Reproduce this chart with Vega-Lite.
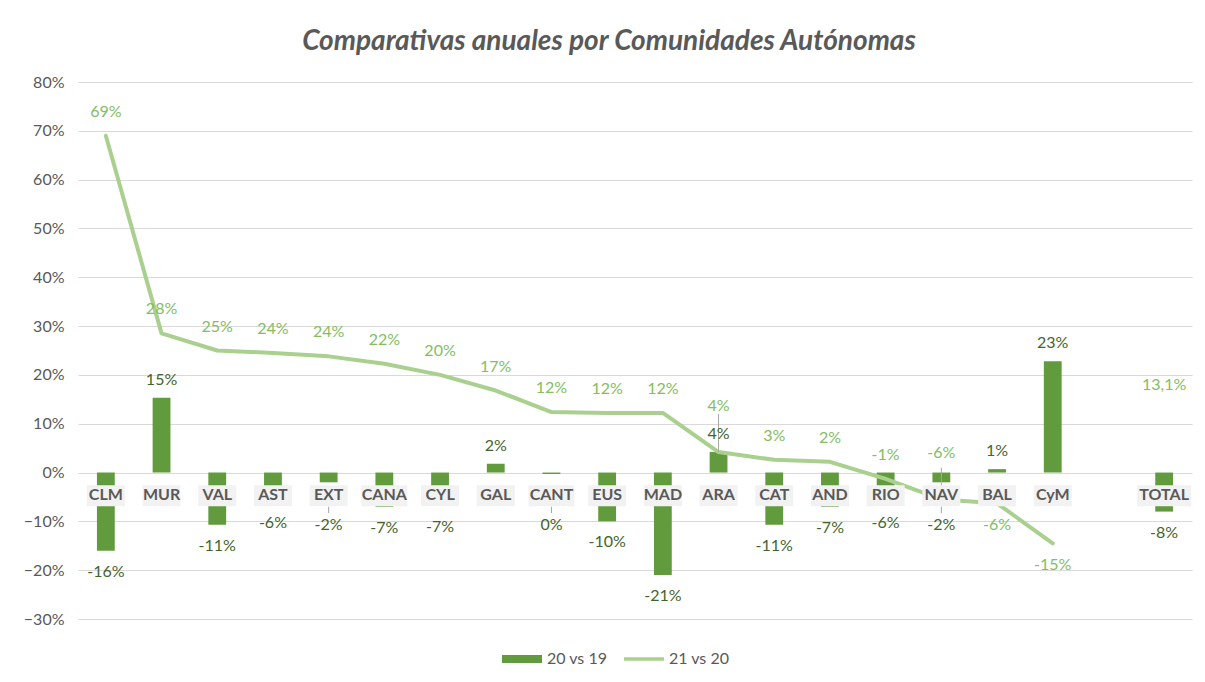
{
  "$schema": "https://vega.github.io/schema/vega-lite/v6.json",
  "width": 1114,
  "height": 537,
  "autosize": "none",
  "padding": {"left": 78, "top": 82, "right": 13, "bottom": 63},
  "background": "white",
  "title": {"text": "Comparativas anuales por Comunidades Autónomas", "font": "Lato", "fontSize": 28, "fontStyle": "italic", "fontWeight": "bold", "color": "#595959", "offset": 18, "dx": -26},
  "config": {"view": {"stroke": null}, "font": "Lato"},
  "data": {"values": [
    {"cat": "CLM", "b": -0.16, "l": 0.69, "bl": "-16%", "ll": "69%"},
    {"cat": "MUR", "b": 0.153, "l": 0.285, "bl": "15%", "ll": "28%"},
    {"cat": "VAL", "b": -0.107, "l": 0.25, "bl": "-11%", "ll": "25%"},
    {"cat": "AST", "b": -0.06, "l": 0.245, "bl": "-6%", "ll": "24%"},
    {"cat": "EXT", "b": -0.02, "l": 0.238, "bl": "-2%", "ll": "24%"},
    {"cat": "CANA", "b": -0.07, "l": 0.223, "bl": "-7%", "ll": "22%"},
    {"cat": "CYL", "b": -0.068, "l": 0.2, "bl": "-7%", "ll": "20%"},
    {"cat": "GAL", "b": 0.018, "l": 0.168, "bl": "2%", "ll": "17%"},
    {"cat": "CANT", "b": -0.003, "l": 0.124, "bl": "0%", "ll": "12%"},
    {"cat": "EUS", "b": -0.1, "l": 0.122, "bl": "-10%", "ll": "12%"},
    {"cat": "MAD", "b": -0.21, "l": 0.122, "bl": "-21%", "ll": "12%"},
    {"cat": "ARA", "b": 0.042, "l": 0.042, "bl": "4%", "ll": "4%"},
    {"cat": "CAT", "b": -0.107, "l": 0.026, "bl": "-11%", "ll": "3%"},
    {"cat": "AND", "b": -0.07, "l": 0.022, "bl": "-7%", "ll": "2%"},
    {"cat": "RIO", "b": -0.06, "l": -0.013, "bl": "-6%", "ll": "-1%"},
    {"cat": "NAV", "b": -0.02, "l": -0.055, "bl": "-2%", "ll": "-6%"},
    {"cat": "BAL", "b": 0.007, "l": -0.063, "bl": "1%", "ll": "-6%"},
    {"cat": "CyM", "b": 0.228, "l": -0.145, "bl": "23%", "ll": "-15%"},
    {"cat": "TOTAL", "b": -0.08, "l": 0.131, "bl": "-8%", "ll": "13,1%"}
  ]},
  "encoding": {
    "x": {"field": "cat", "type": "nominal", "axis": null,
      "scale": {"domain": ["CLM", "MUR", "VAL", "AST", "EXT", "CANA", "CYL", "GAL", "CANT", "EUS", "MAD", "ARA", "CAT", "AND", "RIO", "NAV", "BAL", "CyM", " ", "TOTAL"], "paddingInner": 0, "paddingOuter": 0}}
  },
  "layer": [
    {
      "mark": {"type": "bar", "width": {"band": 0.32}},
      "encoding": {
        "y": {"field": "b", "type": "quantitative", "scale": {"domain": [-0.3, 0.8], "nice": false, "zero": false},
          "axis": {"format": ".0%", "values": [-0.3, -0.2, -0.1, 0, 0.1, 0.2, 0.3, 0.4, 0.5, 0.6, 0.7, 0.8], "grid": true, "gridColor": "#d9d9d9", "gridWidth": 1, "domain": false, "ticks": false, "labelPadding": 14, "labelFont": "Lato", "labelFontSize": 16, "labelColor": "#595959", "title": null}},
        "color": {"datum": "20 vs 19", "type": "nominal",
          "scale": {"domain": ["20 vs 19", "21 vs 20"], "range": ["#629b3d", "#a9d08e"]},
          "legend": {"title": null, "orient": "none", "legendX": 424, "legendY": 557, "direction": "horizontal", "labelFont": "Lato", "labelFontSize": 16, "labelColor": "#595959", "symbolSize": 1600, "symbolStrokeWidth": 0, "columnPadding": 16, "labelOffset": 5,
            "encode": {"symbols": {"update": {
              "shape": {"signal": "datum.value === '20 vs 19' ? 'M-1,-0.2H1V0.2H-1Z' : 'M-1,-0.09H1V0.09H-1Z'"},
              "fill": {"signal": "scale('color', datum.value)"},
              "stroke": {"value": "transparent"},
              "opacity": {"value": 1}
            }}}}
        }
      }
    },
    {
      "transform": [{"filter": "datum.cat !== 'TOTAL'"}],
      "mark": {"type": "line", "strokeWidth": 4, "strokeCap": "round", "strokeJoin": "round"},
      "encoding": {
        "y": {"field": "l", "type": "quantitative"},
        "color": {"datum": "21 vs 20", "type": "nominal"}
      }
    },
    {
      "transform": [{"filter": "datum.cat === 'ARA'"}],
      "mark": {"type": "rule", "color": "#a6a6a6", "strokeWidth": 1},
      "encoding": {"y": {"field": "l", "type": "quantitative"}, "y2": {"datum": 0.12}}
    },
    {
      "transform": [{"filter": "datum.cat === 'NAV'"}],
      "mark": {"type": "rule", "color": "#a6a6a6", "strokeWidth": 1},
      "encoding": {"y": {"field": "l", "type": "quantitative"}, "y2": {"datum": 0.01}}
    },
    {
      "transform": [{"filter": "indexof(['EXT','CANT','NAV'], datum.cat) >= 0"}],
      "mark": {"type": "rule", "color": "#a6a6a6", "strokeWidth": 1},
      "encoding": {"y": {"datum": -0.07, "type": "quantitative"}, "y2": {"datum": -0.083}}
    },
    {
      "transform": [{"calculate": "length(datum.cat)", "as": "n"}],
      "mark": {"type": "bar", "color": "#f2f2f2"},
      "encoding": {
        "y": {"datum": -0.026, "type": "quantitative"},
        "y2": {"datum": -0.069},
        "size": {"field": "n", "type": "quantitative", "scale": {"domain": [3, 5], "range": [38, 54]}, "legend": null}
      }
    },
    {
      "mark": {"type": "text", "fontWeight": "bold", "fontSize": 16, "color": "#595959", "baseline": "middle"},
      "encoding": {
        "y": {"datum": -0.047, "type": "quantitative"},
        "text": {"field": "cat"}
      }
    },
    {
      "transform": [{"filter": "datum.b > 0"}],
      "mark": {"type": "text", "fontSize": 16, "color": "#44642c", "baseline": "middle", "dy": -18},
      "encoding": {"y": {"field": "b", "type": "quantitative"}, "text": {"field": "bl"}}
    },
    {
      "transform": [{"filter": "datum.b < 0 && indexof(['EXT','CANT','NAV'], datum.cat) < 0"}],
      "mark": {"type": "text", "fontSize": 16, "color": "#44642c", "baseline": "middle", "dy": 21},
      "encoding": {"y": {"field": "b", "type": "quantitative"}, "text": {"field": "bl"}}
    },
    {
      "transform": [{"filter": "indexof(['EXT','CANT','NAV'], datum.cat) >= 0"}],
      "mark": {"type": "text", "fontSize": 16, "color": "#44642c", "baseline": "middle"},
      "encoding": {"y": {"datum": -0.107, "type": "quantitative"}, "text": {"field": "bl"}}
    },
    {
      "transform": [{"filter": "indexof(['ARA','NAV','BAL','CyM'], datum.cat) < 0"}],
      "mark": {"type": "text", "fontSize": 16, "color": "#84bd62", "baseline": "middle", "dy": -24},
      "encoding": {"y": {"field": "l", "type": "quantitative"}, "text": {"field": "ll"}}
    },
    {
      "transform": [{"filter": "indexof(['ARA','NAV'], datum.cat) >= 0"}],
      "mark": {"type": "text", "fontSize": 16, "color": "#84bd62", "baseline": "middle", "dy": -46},
      "encoding": {"y": {"field": "l", "type": "quantitative"}, "text": {"field": "ll"}}
    },
    {
      "transform": [{"filter": "indexof(['BAL','CyM'], datum.cat) >= 0"}],
      "mark": {"type": "text", "fontSize": 16, "color": "#84bd62", "baseline": "middle", "dy": 22},
      "encoding": {"y": {"field": "l", "type": "quantitative"}, "text": {"field": "ll"}}
    }
  ]
}
